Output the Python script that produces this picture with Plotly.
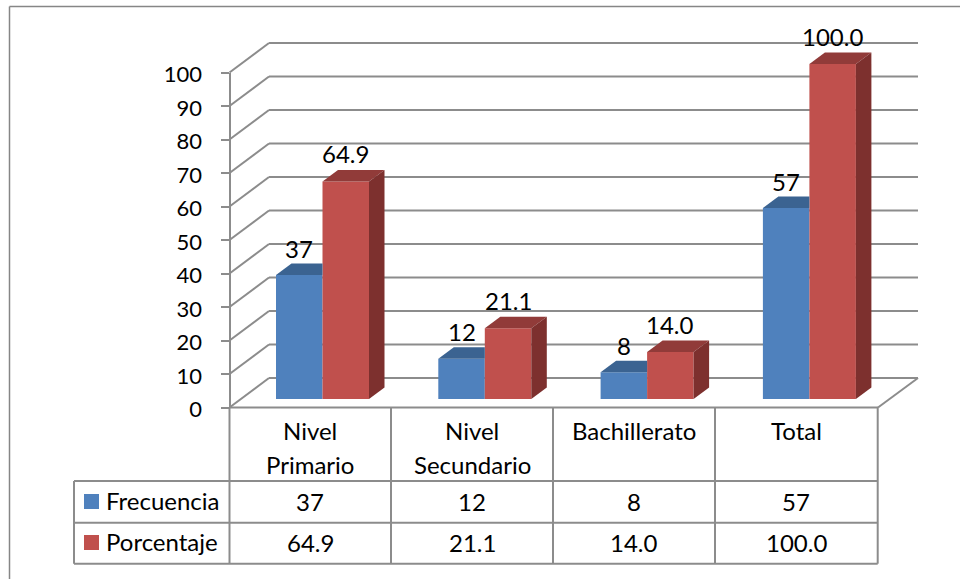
import plotly.graph_objects as go

categories = [["Nivel", "Primario"], ["Nivel", "Secundario"], ["Bachillerato"], ["Total"]]
frecuencia = [37, 12, 8, 57]
porcentaje = [64.9, 21.1, 14.0, 100.0]
porcentaje_labels = ["64.9", "21.1", "14.0", "100.0"]
axis_ticks = list(range(0, 101, 10))

W, H = 960, 579
GRID = "#8c8c8c"
FONT = "Lato"
SIZE = 24

# Scale: one category step and one value unit, in pixels
CAT_PX = 162.3
UNIT_PX = 3.35
X0_PX = 322.5   # pixel position of the first column pair's centre
Y0_PX = 399.0   # pixel position of the columns' base

BAR_W = 46.5 / CAT_PX
DEPTH_X = 15.5 / CAT_PX
DEPTH_Y = 11.5 / UNIT_PX


def fx(px):
    return px / W


def fy(py):
    return 1 - py / H


def data_x(px):
    return (px - X0_PX) / CAT_PX


def data_y(py):
    return (Y0_PX - py) / UNIT_PX


fig = go.Figure()

xs = list(range(len(categories)))
fig.add_trace(go.Bar(x=xs, y=frecuencia, name="Frecuencia", marker=dict(color="#4F81BD", line_width=0)))
fig.add_trace(go.Bar(x=xs, y=porcentaje, name="Porcentaje", marker=dict(color="#C0504D", line_width=0)))


def face(xv, yv, color):
    fig.add_trace(go.Scatter(x=xv, y=yv, mode="lines", fill="toself", fillcolor=color,
                             line=dict(width=0, color=color), hoverinfo="skip"))


# Top and side faces giving the columns their depth
for i, (f, p) in enumerate(zip(frecuencia, porcentaje)):
    face([i - BAR_W, i, i, i - BAR_W + DEPTH_X, i - BAR_W],
         [f, f, f + DEPTH_Y, f + DEPTH_Y, f], "#3B6391")
    face([i, i + BAR_W, i + BAR_W + DEPTH_X, i + DEPTH_X, i],
         [p, p, p + DEPTH_Y, p + DEPTH_Y, p], "#913B39")
    face([i + BAR_W, i + BAR_W + DEPTH_X, i + BAR_W + DEPTH_X, i + BAR_W, i + BAR_W],
         [0, DEPTH_Y, p + DEPTH_Y, p, 0], "#7D302E")

shapes = []


def line(x0, y0, x1, y1, width=2.0, color=GRID):
    shapes.append(dict(type="line", xref="paper", yref="paper", layer="below",
                       x0=fx(x0), y0=fy(y0), x1=fx(x1), y1=fy(y1),
                       line=dict(color=color, width=width)))


# Side wall and back wall gridlines
for t in axis_ticks:
    front = 407.5 - t * UNIT_PX
    back = 378.0 - t * UNIT_PX
    line(229.5, front, 269, back)
    line(269, back, 918, back)
line(878, 407.5, 918, 378)

# Outer chart frame
line(9.5, 6.5, 960, 6.5, 1.5, "#868686")
line(9.5, 6.5, 9.5, 579, 1.5, "#868686")

# Data table rules
COLS = [229.5, 391, 553, 715, 877.7]
line(229.5, 407.5, 878, 407.5)
for c in COLS:
    line(c, 407.5, c, 563.7)
line(74, 481, 877.7, 481)
line(74, 522.7, 877.7, 522.7)
line(74, 563.7, 877.7, 563.7)
line(74, 481, 74, 563.7)

# Legend keys inside the data table
for top, color in ((494, "#4F81BD"), (535, "#C0504D")):
    shapes.append(dict(type="rect", xref="paper", yref="paper", layer="above",
                       x0=fx(84), x1=fx(99), y0=fy(top + 15), y1=fy(top),
                       fillcolor=color, line_width=0))

annotations = []


def paper_text(x, y, text, anchor="center"):
    annotations.append(dict(xref="paper", yref="paper", x=fx(x), y=fy(y), text=text,
                            showarrow=False, xanchor=anchor, yanchor="middle"))


# Value labels above the columns
for i, (f, p, pl) in enumerate(zip(frecuencia, porcentaje, porcentaje_labels)):
    annotations.append(dict(x=i - BAR_W / 2, y=f, text=str(f), showarrow=False, yshift=27,
                            xanchor="center", yanchor="middle"))
    annotations.append(dict(x=i + BAR_W / 2, y=p, text=pl, showarrow=False, yshift=28,
                            xanchor="center", yanchor="middle"))

# Data table text
for i, cat in enumerate(categories):
    cx = (COLS[i] + COLS[i + 1]) / 2
    for j, part in enumerate(cat):
        paper_text(cx, 430.5 + 34 * j, part)
    paper_text(cx, 501, str(frecuencia[i]))
    paper_text(cx, 542, porcentaje_labels[i])
paper_text(104, 500, "Frecuencia", "left")
paper_text(104, 541, "Porcentaje", "left")

fig.update_layout(
    width=W, height=H,
    margin=dict(l=0, r=0, t=0, b=0, autoexpand=False),
    paper_bgcolor="white", plot_bgcolor="rgba(0,0,0,0)",
    showlegend=False,
    barmode="group", bargap=1 - 2 * BAR_W, bargroupgap=0,
    font=dict(family=FONT, size=SIZE, color="#000000"),
    shapes=shapes, annotations=annotations,
    xaxis=dict(range=[data_x(0), data_x(W)], visible=False, domain=[0, 1]),
    yaxis=dict(range=[data_y(H), data_y(0)], visible=False, domain=[0, 1]),
    yaxis2=dict(
        anchor="free", position=fx(229.5), side="left",
        domain=[fy(407.5), fy(72.5)], range=[0, 100],
        tickvals=axis_ticks, ticks="outside", ticklen=8, tickwidth=2, tickcolor=GRID,
        ticklabelstandoff=14, ticklabelshift=2,
        showline=True, linecolor=GRID, linewidth=2, showgrid=False, zeroline=False,
        tickfont=dict(family=FONT, size=22, color="#000000"),
    ),
)
# Invisible companion trace so the value axis is drawn
fig.add_trace(go.Scatter(x=[0], y=[0], yaxis="y2", mode="markers",
                         marker=dict(opacity=0), hoverinfo="skip"))

fig.write_html("out.html")
